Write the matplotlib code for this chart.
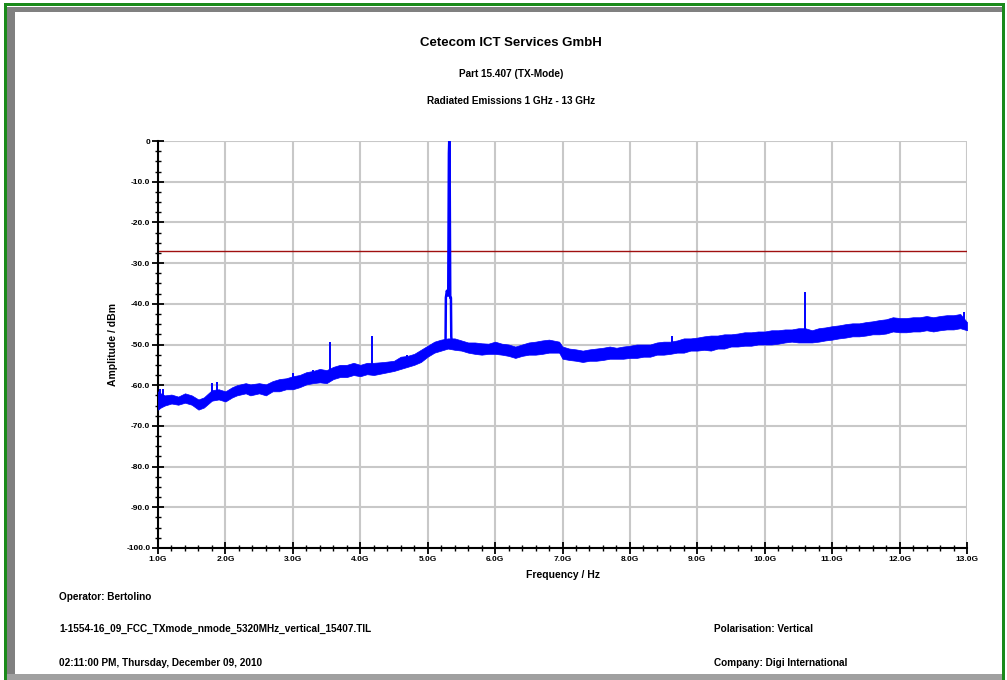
import matplotlib
matplotlib.use("Agg")
import matplotlib.pyplot as plt
from matplotlib.patches import Rectangle
from matplotlib.ticker import MultipleLocator

plt.rcParams['font.family'] = ['Liberation Sans', 'DejaVu Sans']

# noise floor envelope (GHz, dBm)
freq = [1.00, 1.04, 1.10, 1.20, 1.30, 1.40, 1.50, 1.60, 1.68, 1.80, 1.90, 2.00,
        2.10, 2.17, 2.30, 2.37, 2.50, 2.60, 2.70, 2.80, 2.90, 3.00, 3.10, 3.20,
        3.30, 3.40, 3.50, 3.60, 3.70, 3.80, 3.90, 4.00, 4.10, 4.20, 4.35, 4.50,
        4.60, 4.70, 4.80, 4.90, 5.00, 5.10, 5.20, 5.30, 5.40, 5.50, 5.60, 5.70,
        5.80, 5.90, 6.00, 6.10, 6.20, 6.30, 6.40, 6.50, 6.60, 6.70, 6.80, 6.95,
        7.00, 7.10, 7.20, 7.30, 7.40, 7.50, 7.60, 7.70, 7.80, 7.90, 8.00, 8.10,
        8.20, 8.30, 8.40, 8.50, 8.60, 8.70, 8.80, 8.90, 9.00, 9.10, 9.20, 9.30,
        9.40, 9.50, 9.60, 9.70, 9.80, 9.90, 10.00, 10.10, 10.20, 10.30, 10.40,
        10.50, 10.60, 10.70, 10.80, 10.90, 11.00, 11.10, 11.20, 11.30, 11.40,
        11.50, 11.60, 11.70, 11.80, 11.90, 12.00, 12.10, 12.20, 12.30, 12.40,
        12.50, 12.60, 12.70, 12.80, 12.90, 13.00]
lower = [-66.0, -65.5, -65.0, -64.5, -64.8, -64.3, -64.8, -66.0, -65.5, -63.8, -63.5, -64.0,
         -63.0, -62.5, -62.0, -62.5, -62.0, -62.5, -61.5, -61.5, -61.0, -61.0, -60.5, -59.8,
         -59.5, -59.3, -59.5, -58.5, -58.0, -58.0, -57.5, -57.8, -57.3, -57.5, -57.0, -56.5,
         -56.0, -55.5, -55.0, -54.3, -53.0, -52.0, -51.5, -51.0, -51.3, -51.5, -52.0, -52.3,
         -52.5, -52.3, -52.3, -52.5, -52.8, -53.3, -52.8, -52.5, -52.5, -52.3, -52.0, -52.0,
         -53.5, -53.8, -54.0, -54.3, -54.0, -54.0, -53.8, -53.5, -53.5, -53.5, -53.3, -53.3,
         -53.0, -53.0, -52.5, -52.5, -52.3, -52.0, -52.0, -51.5, -51.5, -51.3, -51.5, -51.0,
         -51.0, -50.5, -50.5, -50.3, -50.3, -50.0, -50.0, -50.0, -49.8, -49.5, -49.3,
         -49.5, -49.5, -49.5, -49.3, -49.0, -48.8, -48.5, -48.3, -48.0, -48.0,
         -47.8, -47.5, -47.5, -47.3, -46.8, -47.0, -47.0, -46.8, -46.8, -46.5,
         -46.8, -46.5, -46.3, -46.3, -46.0, -46.5]
upper = [-61.5, -62.0, -62.5, -62.3, -62.8, -62.0, -62.5, -63.5, -63.0, -61.2, -61.0, -61.5,
         -60.5, -60.0, -59.5, -59.8, -59.5, -59.8, -59.0, -58.5, -58.3, -57.8, -57.5, -56.8,
         -56.5, -56.0, -56.3, -55.5, -55.0, -55.0, -54.5, -55.0, -54.5, -54.5, -54.3, -54.0,
         -53.0, -52.8, -52.3, -51.3, -50.3, -49.3, -48.8, -48.5, -48.5, -49.0, -49.5, -49.5,
         -49.7, -49.8, -49.3, -49.8, -50.0, -50.5, -50.0, -49.5, -49.3, -49.0, -48.8, -49.3,
         -50.5, -51.0, -51.2, -51.5, -51.2, -51.0, -50.8, -50.5, -50.8, -50.5, -50.3, -50.0,
         -50.0, -50.0, -49.5, -49.3, -49.3, -49.0, -48.5, -48.5, -48.3, -48.0, -47.8, -47.8,
         -47.5, -47.5, -47.3, -47.0, -47.0, -46.8, -46.8, -46.5, -46.5, -46.3, -46.3,
         -46.0, -46.0, -46.5, -46.0, -45.8, -45.5, -45.3, -45.0, -44.8, -44.8,
         -44.5, -44.3, -44.0, -43.8, -43.3, -43.5, -43.5, -43.3, -43.3, -43.0,
         -43.3, -43.0, -42.8, -42.8, -42.5, -44.5]

# narrow spurs sticking out of the noise floor
spur_freq = [1.03, 1.07, 1.80, 1.88, 3.00, 3.30, 3.55, 4.17, 4.70, 8.62, 10.60, 12.95]
spur_base = [-65.0, -65.0, -63.0, -62.0, -60.0, -58.0, -58.0, -57.0, -54.0, -51.0, -49.0, -45.0]
spur_top = [-61.0, -61.0, -59.5, -59.2, -57.0, -56.3, -49.5, -48.0, -52.5, -48.0, -37.0, -42.0]

# carrier at 5.32 GHz with its shoulders
peak_freq = [5.265, 5.27, 5.285, 5.305, 5.315, 5.32, 5.325, 5.335, 5.345, 5.35, 5.36]
peak_amp = [-50.0, -38.5, -36.8, -38.0, -3.0, 0.0, -3.0, -38.5, -38.5, -48.0, -50.0]

limit_db = -27.0

xticks = [1, 2, 3, 4, 5, 6, 7, 8, 9, 10, 11, 12, 13]
xlabels = ['1.0G', '2.0G', '3.0G', '4.0G', '5.0G', '6.0G', '7.0G', '8.0G', '9.0G',
           '10.0G', '11.0G', '12.0G', '13.0G']
yticks = [0, -10, -20, -30, -40, -50, -60, -70, -80, -90, -100]
ylabels = ['0', '-10.0', '-20.0', '-30.0', '-40.0', '-50.0', '-60.0', '-70.0',
           '-80.0', '-90.0', '-100.0']

W, H = 1007, 680
fig = plt.figure(figsize=(W / 100, H / 100), dpi=100)
fig.patch.set_facecolor('white')

# window frame: green outline with grey bevel
def px_rect(x0, y0, x1, y1, color):
    fig.patches.append(Rectangle((x0 / W, 1 - y1 / H), (x1 - x0) / W, (y1 - y0) / H,
                                 transform=fig.transFigure, facecolor=color,
                                 edgecolor='none', zorder=0))

px_rect(6, 7, 1004, 12, '#808080')
px_rect(6, 7, 15, 680, '#808080')
px_rect(6, 674, 1004, 680, '#a0a0a0')
px_rect(4, 3, 1004, 6, '#1a8a1a')
px_rect(4, 3, 7, 680, '#1a8a1a')
px_rect(1002, 3, 1005, 680, '#1a8a1a')

ax = fig.add_axes([158 / W, 1 - 548 / H, 809 / W, 407 / H])
ax.set_facecolor('none')

ax.fill_between(freq, lower, upper, color='#0000ff', linewidth=0.5, zorder=3)
ax.vlines(spur_freq, spur_base, spur_top, color='#0000ff', linewidth=1.4, zorder=3)
ax.plot(peak_freq, peak_amp, color='#0000ff', linewidth=1.8, zorder=4)
ax.axhline(limit_db, color='#a01010', linewidth=1.0, zorder=2)

ax.set_xlim(1, 13)
ax.set_ylim(-100, 0)
ax.set_xticks(xticks)
ax.set_xticklabels(xlabels)
ax.set_yticks(yticks)
ax.set_yticklabels(ylabels)
ax.xaxis.set_minor_locator(MultipleLocator(0.2))
ax.yaxis.set_minor_locator(MultipleLocator(2.5))
ax.grid(True, which='major', color='#c8c8c8', linewidth=1.5, zorder=1)
ax.set_axisbelow(True)

for side in ['top', 'right']:
    ax.spines[side].set_visible(False)
for side in ['left', 'bottom']:
    ax.spines[side].set_linewidth(1.5)

ax.tick_params(which='major', direction='inout', length=9, width=1.3, pad=1,
               labelsize=6)
ax.tick_params(which='minor', direction='inout', length=5, width=1.0)
for lab in ax.get_xticklabels() + ax.get_yticklabels():
    lab.set_fontweight('bold')

ax.set_xlabel('Frequency / Hz', fontsize=7.5, fontweight='bold', labelpad=5)
ax.set_ylabel('Amplitude / dBm', fontsize=7.5, fontweight='bold', labelpad=6)

fig.text(511 / W, 1 - 43 / H, 'Cetecom ICT Services GmbH', ha='center', va='center',
         fontsize=9.5, fontweight='bold')
fig.text(511 / W, 1 - 74 / H, 'Part 15.407 (TX-Mode)', ha='center', va='center',
         fontsize=7.2, fontweight='bold')
fig.text(511 / W, 1 - 101 / H, 'Radiated Emissions 1 GHz - 13 GHz', ha='center',
         va='center', fontsize=7.2, fontweight='bold')

fig.text(59 / W, 1 - 597 / H, 'Operator: Bertolino', ha='left', va='center',
         fontsize=7.2, fontweight='bold')
fig.text(59 / W, 1 - 629 / H, '1-1554-16_09_FCC_TXmode_nmode_5320MHz_vertical_15407.TIL',
         ha='left', va='center', fontsize=7.2, fontweight='bold')
fig.text(59 / W, 1 - 663 / H, '02:11:00 PM, Thursday, December 09, 2010', ha='left',
         va='center', fontsize=7.2, fontweight='bold')
fig.text(714 / W, 1 - 629 / H, 'Polarisation: Vertical', ha='left', va='center',
         fontsize=7.2, fontweight='bold')
fig.text(714 / W, 1 - 663 / H, 'Company: Digi International', ha='left', va='center',
         fontsize=7.2, fontweight='bold')

fig.savefig('out.png', dpi=100)
